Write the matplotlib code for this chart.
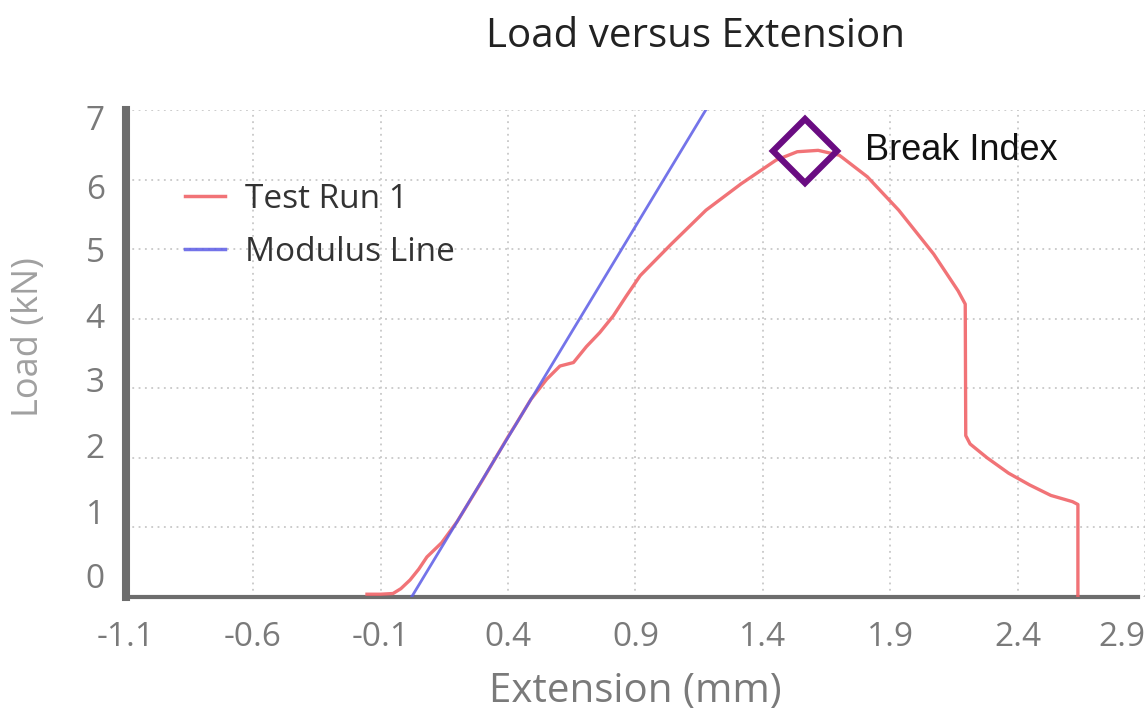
import matplotlib
matplotlib.use("Agg")
import matplotlib.pyplot as plt
from matplotlib.transforms import ScaledTranslation

# Data
test_x = [-0.153, -0.10, -0.051, -0.02, 0.016, 0.05, 0.082, 0.14, 0.20, 0.30, 0.40, 0.434,
          0.49, 0.552, 0.604, 0.657, 0.708, 0.76, 0.813, 0.865, 0.919, 1.04, 1.177, 1.315,
          1.452, 1.535, 1.617, 1.70, 1.81, 1.933, 2.07, 2.166, 2.194,
          2.196, 2.213, 2.28, 2.364, 2.447, 2.53, 2.615, 2.636, 2.636]
test_y = [0.04, 0.04, 0.05, 0.12, 0.245, 0.40, 0.575, 0.78, 1.08, 1.68, 2.30, 2.50,
          2.84, 3.13, 3.32, 3.37, 3.60, 3.80, 4.04, 4.33, 4.62, 5.07, 5.56, 5.94,
          6.28, 6.40, 6.42, 6.35, 6.04, 5.56, 4.93, 4.40, 4.21,
          2.32, 2.20, 2.00, 1.78, 1.61, 1.46, 1.37, 1.33, 0.0]
modulus_x = [0.022, 1.176]
modulus_y = [0.0, 7.0]
break_x = [1.565]
break_y = [6.41]
x_ticks = [-1.1, -0.6, -0.1, 0.4, 0.9, 1.4, 1.9, 2.4, 2.9]
x_tick_labels = ["-1.1", "-0.6", "-0.1", "0.4", "0.9", "1.4", "1.9", "2.4", "2.9"]
y_ticks = [0, 1, 2, 3, 4, 5, 6, 7]
# vertical offsets (px, upwards) of the y tick labels as they sit in the reference
y_label_shift = [22, 16, 12, 9, 3, 0, -7, -8]

plt.rcParams['font.family'] = ['Open Sans', 'DejaVu Sans']

W, H = 1148, 717
fig = plt.figure(figsize=(W / 100, H / 100), dpi=100)
ax = fig.add_axes([125.6 / W, (H - 597) / H, 1019.6 / W, (597 - 110) / H])

ax.plot(test_x, test_y, color='#f06468', lw=2.4, alpha=0.9, label='Test Run 1', zorder=3)
ax.plot(modulus_x, modulus_y, color='#5c5ce6', lw=2.0, alpha=0.85, label='Modulus Line', zorder=4)
ax.plot(break_x, break_y, marker='D', markersize=33, markerfacecolor='none',
        markeredgecolor='#6a0c82', markeredgewidth=4.5, linestyle='none', zorder=5)
ax.text(1.80, 6.42, 'Break Index', fontsize=26, color='#111111',
        family=['Liberation Sans', 'DejaVu Sans'], va='center', ha='left')

ax.set_xlim(-1.1, 2.9)
ax.set_ylim(0, 7)
ax.set_xticks(x_ticks)
ax.set_xticklabels(x_tick_labels)
ax.set_yticks(y_ticks)
ax.tick_params(axis='both', length=0, labelsize=24, colors='#7a7a7a')
ax.tick_params(axis='x', pad=17)
ax.tick_params(axis='y', pad=15)
ax.get_xticklabels()[-1].set_horizontalalignment('right')
for lab, dy in zip(ax.get_yticklabels(), y_label_shift):
    lab.set_transform(lab.get_transform() + ScaledTranslation(0, dy / 100, fig.dpi_scale_trans))

ax.grid(True, color='#c8c8c8', linestyle=(0, (1, 2.5)), linewidth=1.3)
ax.set_axisbelow(True)
for s in ['top', 'right']:
    ax.spines[s].set_visible(False)
ax.spines['left'].set_color('#6d6d6d')
ax.spines['left'].set_linewidth(5.8)
ax.spines['bottom'].set_color('#6d6d6d')
ax.spines['bottom'].set_linewidth(3)
ax.spines['bottom'].set_bounds(-1.1, 2.873)

leg = ax.legend(loc='upper left', bbox_to_anchor=(185 / W, 1 - 183 / H),
                bbox_transform=fig.transFigure, frameon=False, borderpad=0, borderaxespad=0,
                fontsize=24, handlelength=1.2, handletextpad=0.6, labelspacing=0.6)
for t in leg.get_texts():
    t.set_color('#333333')
for h in leg.get_lines():
    h.set_linewidth(2.5)

fig.text(696 / W, 1 - 37 / H, 'Load versus Extension', ha='center', va='center',
         fontsize=29, color='#222222')
fig.text(635 / W, 1 - 692 / H, 'Extension (mm)', ha='center', va='center',
         fontsize=29, color='#7a7a7a')
fig.text(29 / W, 1 - 337 / H, 'Load (kN)', ha='center', va='center', rotation=90,
         fontsize=26, color='#a0a0a0')

fig.savefig('out.png', dpi=100, facecolor='white')
